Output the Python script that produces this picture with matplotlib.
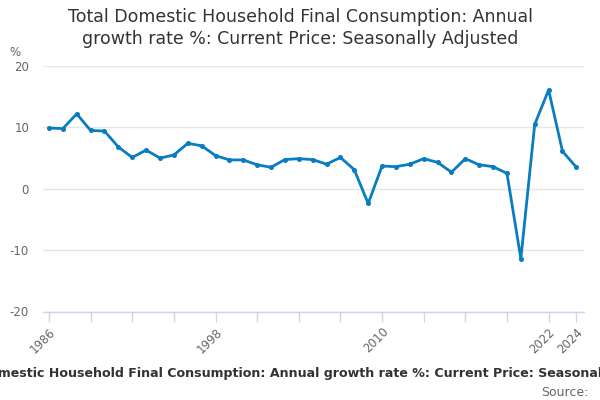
import matplotlib
matplotlib.use("Agg")
import matplotlib.pyplot as plt

years = list(range(1986, 2025))
values = [9.9, 9.8, 12.2, 9.5, 9.4, 6.8, 5.1, 6.3, 5.0, 5.5,
          7.4, 7.0, 5.4, 4.7, 4.7, 3.9, 3.5, 4.75, 4.9, 4.75,
          4.0, 5.1, 3.1, -2.4, 3.7, 3.6, 4.0, 4.9, 4.3, 2.7,
          4.9, 3.9, 3.6, 2.5, -11.4, 10.5, 16.1, 6.1, 3.5]
tick_years = list(range(1986, 2023, 3)) + [2024]
label_years = [1986, 1998, 2010, 2022, 2024]
yticks = [-20, -10, 0, 10, 20]

title = "Total Domestic Household Final Consumption: Annual\ngrowth rate %: Current Price: Seasonally Adjusted"
caption = "Total Domestic Household Final Consumption: Annual growth rate %: Current Price: Seasonally Adjusted"

plt.rcParams['font.family'] = ['DejaVu Sans']
fig = plt.figure(figsize=(6, 4), dpi=100)
ax = fig.add_axes([43/600, 1-311.5/400, 541/600, (311.5-66)/400])

ax.plot(years, values, color='#0a7cc1', linewidth=2, marker='o', markersize=2.6, zorder=3)

ax.set_xlim(1985.57, 2024.55)
ax.set_ylim(-20, 20)
ax.set_yticks(yticks)
ax.set_yticklabels([str(v) for v in yticks])
ax.set_xticks(tick_years)
ax.set_xticklabels([str(y) if y in label_years else '' for y in tick_years],
                   rotation=45, ha='right', rotation_mode='anchor')

ax.grid(axis='y', color='#e6e6e6', linewidth=1)
ax.set_axisbelow(True)
for s in ['top', 'right', 'left']:
    ax.spines[s].set_visible(False)
ax.spines['bottom'].set_color('#ccd6eb')
ax.spines['bottom'].set_linewidth(1)
ax.tick_params(axis='y', length=0, pad=10, labelsize=8.5, labelcolor='#666666')
ax.tick_params(axis='x', length=7, width=1, color='#ccd6eb', pad=3, labelsize=8.5, labelcolor='#666666')
for lbl in ax.get_yticklabels():
    lbl.set_horizontalalignment('right')

fig.text(15/600, 1-52/400, '%', fontsize=8.5, color='#666666', ha='center', va='center')
fig.text(0.5, 1-28/400, title, fontsize=12.5, color='#333333', ha='center', va='center', linespacing=1.25)
fig.text(311/600, 1-373/400, caption, fontsize=9.1, fontweight='bold', color='#333333', ha='center', va='center')
fig.text(588/600, 1-392/400, 'Source:', fontsize=9, color='#666666', ha='right', va='center')

fig.savefig('out.png', dpi=100)
